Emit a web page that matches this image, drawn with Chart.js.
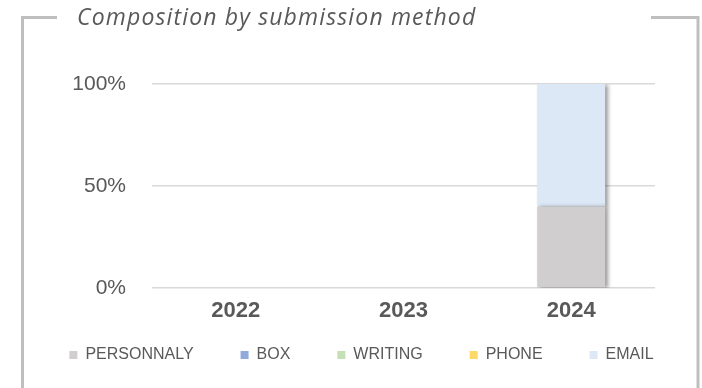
<!DOCTYPE html>
<html>
<head>
<meta charset="utf-8">
<script src="https://cdn.jsdelivr.net/npm/chart.js@4/dist/chart.umd.min.js"></script>
<style>
  html, body { margin: 0; padding: 0; background: #ffffff; }
  #wrap { width: 702px; height: 388px; position: relative; }
</style>
</head>
<body>
<div id="wrap"><canvas id="c" width="702" height="388"></canvas></div>
<script>
const chartTitle = 'Composition by submission method';
const categories = ['2022', '2023', '2024'];
const seriesNames = ['PERSONNALY', 'BOX', 'WRITING', 'PHONE', 'EMAIL'];
const personnaly = [0, 0, 40];
const box = [0, 0, 0];
const writing = [0, 0, 0];
const phone = [0, 0, 0];
const email = [0, 0, 60];
const yTicks = [0, 50, 100];
const colors = ['#d0cece', '#8faadc', '#c5e0b4', '#ffd966', '#dce8f5'];

const seriesValues = [personnaly, box, writing, phone, email];
const TEXT = '#595959';

const framePlugin = {
  id: 'frame',
  afterLayout(chart) {
    const tb = chart.titleBlock;
    if (tb) {
      tb.left = 77;
      if (!tb._patched) {
        const orig = tb.draw;
        tb.draw = function () {
          const ctx = this.ctx;
          ctx.save();
          ctx.letterSpacing = '1.15px';
          orig.apply(this, arguments);
          ctx.restore();
        };
        tb._patched = true;
      }
    }
    // let the x tick labels extend below their (shortened) box without being clipped
    const xs = chart.scales.x;
    if (xs) { xs.bottom = xs.top + 40; }
  },
  beforeDatasetsDraw(chart) {
    const ctx = chart.ctx;
    ctx.save();
    ctx.shadowColor = 'rgba(0,0,0,0.4)';
    ctx.shadowBlur = 4;
    ctx.shadowOffsetX = 3;
    ctx.shadowOffsetY = 1;
  },
  afterDatasetsDraw(chart) {
    chart.ctx.restore();
  },
  afterDraw(chart) {
    const ctx = chart.ctx;
    ctx.save();
    ctx.strokeStyle = '#bfbfbf';
    ctx.lineWidth = 3;
    ctx.beginPath();
    ctx.moveTo(22.5, 388);
    ctx.lineTo(22.5, 17.5);
    ctx.lineTo(57, 17.5);
    ctx.moveTo(651, 17.5);
    ctx.lineTo(698, 17.5);
    ctx.lineTo(698, 388);
    ctx.stroke();
    ctx.restore();
  }
};

new Chart(document.getElementById('c'), {
  type: 'bar',
  data: {
    labels: categories,
    datasets: seriesNames.map((name, i) => ({
      label: name,
      data: seriesValues[i],
      backgroundColor: colors[i],
      borderWidth: 0,
      categoryPercentage: 1,
      barPercentage: 0.405
    }))
  },
  options: {
    responsive: false,
    animation: false,
    layout: { padding: { left: 21, right: 0, top: 0, bottom: 15 } },
    plugins: {
      title: {
        display: true,
        text: chartTitle,
        align: 'start',
        color: TEXT,
        font: { family: '"Open Sans", "Liberation Sans", Arial, sans-serif', size: 23, style: 'italic', weight: 'normal', lineHeight: 1.2 },
        padding: { top: 5, bottom: 51.4 }
      },
      legend: {
        position: 'bottom',
        labels: {
          color: TEXT,
          boxWidth: 8,
          boxHeight: 8,
          padding: 47,
          font: { family: '"Liberation Sans", Arial, sans-serif', size: 16 }
        }
      },
      tooltip: { enabled: false }
    },
    scales: {
      x: {
        stacked: true,
        grid: { display: false, drawTicks: false },
        border: { display: false },
        ticks: {
          color: TEXT,
          padding: 10,
          font: { family: '"Liberation Sans", Arial, sans-serif', size: 22, weight: 'bold' }
        },
        afterFit(scale) { scale.height = 12; }
      },
      y: {
        stacked: true,
        min: 0,
        max: 100,
        afterBuildTicks(scale) { scale.ticks = yTicks.map(v => ({ value: v })); },
        grid: { color: '#d9d9d9', lineWidth: 1.5, drawTicks: false },
        border: { display: false },
        ticks: {
          color: TEXT,
          padding: 26,
          font: { family: '"Liberation Sans", Arial, sans-serif', size: 21 },
          callback: v => v + '%'
        },
        afterFit(scale) { scale.width = 131; }
      },
      y2: {
        type: 'linear',
        position: 'right',
        display: true,
        grid: { display: false, drawTicks: false },
        border: { display: false },
        ticks: { display: false },
        afterFit(scale) { scale.width = 47; }
      }
    }
  },
  plugins: [framePlugin]
});
</script>
</body>
</html>
